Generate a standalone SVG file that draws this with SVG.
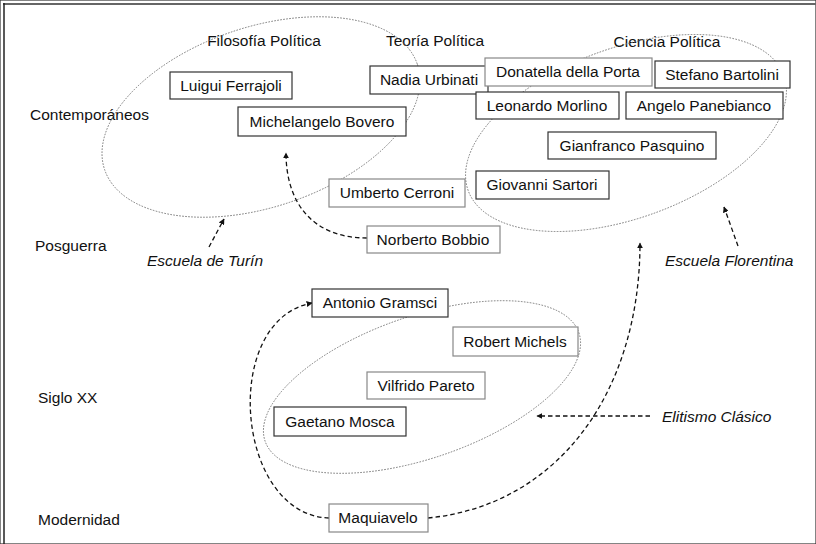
<svg xmlns="http://www.w3.org/2000/svg" width="816" height="544" viewBox="0 0 816 544">
<style>
text{font-family:"Liberation Sans",Arial,sans-serif;font-size:15.5px;fill:#111}
.it{font-style:italic}
.c{text-anchor:middle}
rect{fill:#fff;stroke:#333;stroke-width:1.2}
rect.l{stroke:#888}
.ell{fill:none;stroke:#777;stroke-width:0.9;stroke-dasharray:1.6 1.4}
.arr{fill:none;stroke:#111;stroke-width:1.3;stroke-dasharray:4.5 3;marker-end:url(#ah)}
</style>
<defs>
<marker id="ah" viewBox="0 0 10 10" refX="9" refY="5" markerWidth="6" markerHeight="6" markerUnits="userSpaceOnUse" orient="auto">
<path d="M0,0 L10,5 L0,10 Z" fill="#111"/>
</marker>
</defs>
<rect width="816" height="544" fill="#fff" stroke="none"/>
<line x1="3" y1="4" x2="816" y2="4" stroke="#666" stroke-width="2"/>
<line x1="4" y1="3" x2="4" y2="544" stroke="#222" stroke-width="1.5"/>

<g id="labels">
<text x="264" y="46" class="c">Filosofía Política</text>
<text x="435" y="46" class="c">Teoría Política</text>
<text x="667" y="47" class="c">Ciencia Política</text>
<text x="30" y="120">Contemporáneos</text>
<text x="35" y="251">Posguerra</text>
<text x="38" y="403">Siglo XX</text>
<text x="38" y="525">Modernidad</text>
<text x="147" y="266" class="it">Escuela de Turín</text>
<text x="665" y="266" class="it">Escuela Florentina</text>
<text x="662" y="422" class="it">Elitismo Clásico</text>
</g>

<g id="groups">
<ellipse id="g-filosofia" class="ell" cx="261" cy="117" rx="165" ry="90" transform="rotate(-18.6 261 117)"/>
<ellipse id="g-ciencia" class="ell" cx="626" cy="133" rx="168" ry="85" transform="rotate(-20.1 626 133)"/>
<ellipse id="g-elitismo" class="ell" cx="422" cy="387" rx="166" ry="71" transform="rotate(-19.1 422 387)"/>
</g>

<g id="connectors">
<path class="arr" d="M367,238 C310,238 286,200 286,153"/>
<path class="arr" d="M209,247 L224,219"/>
<path class="arr" d="M738,246 L724,207"/>
<path class="arr" d="M650,416 L537,416"/>
<path class="arr" d="M329,518 C235,515 220,320 312,303"/>
<path class="arr" d="M428,518 C560,505 640,390 640,243"/>
</g>

<g id="n-ferrajoli"><rect x="170" y="72" width="122" height="27"/><text x="231" y="91" class="c">Luigui Ferrajoli</text></g>
<g id="n-bovero"><rect x="238" y="107" width="168" height="29"/><text x="322" y="127" class="c">Michelangelo Bovero</text></g>
<g id="n-urbinati"><rect x="370" y="66" width="118" height="28"/><text x="429" y="85" class="c">Nadia Urbinati</text></g>
<g id="n-cerroni"><rect class="l" x="329" y="179" width="136" height="28"/><text x="397" y="198" class="c">Umberto Cerroni</text></g>
<g id="n-bobbio"><rect class="l" x="367" y="226" width="133" height="27"/><text x="433" y="245" class="c">Norberto Bobbio</text></g>
<g id="n-porta"><rect class="l" x="485" y="58" width="167" height="28"/><text x="568" y="77" class="c">Donatella della Porta</text></g>
<g id="n-bartolini"><rect x="655" y="61" width="135" height="27"/><text x="722" y="80" class="c">Stefano Bartolini</text></g>
<g id="n-morlino"><rect x="476" y="92" width="143" height="27"/><text x="547" y="111" class="c">Leonardo Morlino</text></g>
<g id="n-panebianco"><rect x="626" y="92" width="157" height="27"/><text x="704" y="111" class="c">Angelo Panebianco</text></g>
<g id="n-pasquino"><rect x="548" y="132" width="168" height="27"/><text x="632" y="151" class="c">Gianfranco Pasquino</text></g>
<g id="n-sartori"><rect x="476" y="171" width="133" height="28"/><text x="542" y="190" class="c">Giovanni Sartori</text></g>
<g id="n-gramsci"><rect x="312" y="289" width="136" height="28"/><text x="380" y="308" class="c">Antonio Gramsci</text></g>
<g id="n-michels"><rect class="l" x="453" y="327" width="125" height="29"/><text x="515" y="347" class="c">Robert Michels</text></g>
<g id="n-pareto"><rect class="l" x="367" y="372" width="118" height="27"/><text x="426" y="391" class="c">Vilfrido Pareto</text></g>
<g id="n-mosca"><rect x="274" y="407" width="132" height="29"/><text x="340" y="427" class="c">Gaetano Mosca</text></g>
<g id="n-maquiavelo"><rect class="l" x="329" y="504" width="99" height="28"/><text x="378" y="523" class="c">Maquiavelo</text></g>
</svg>
